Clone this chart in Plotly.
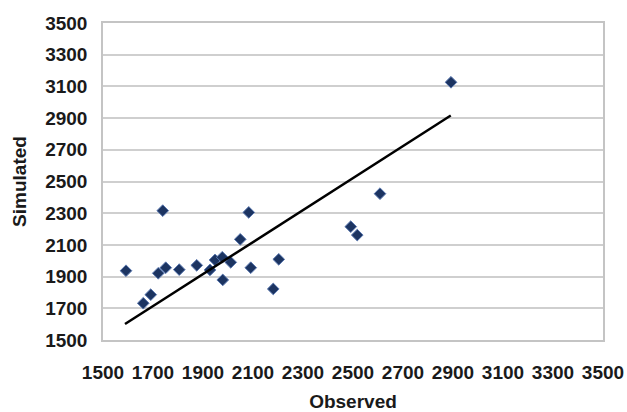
import plotly.graph_objects as go

# Observed vs simulated values
observed = [1592, 1739, 1661, 1691, 1721, 1751, 1805, 1875, 1928, 1948, 1977,
            1979, 2011, 2049, 2083, 2091, 2181, 2203, 2491, 2517, 2608, 2892]
simulated = [1937, 2316, 1732, 1786, 1921, 1956, 1944, 1971, 1942, 2005, 2022,
             1879, 1990, 2135, 2305, 1956, 1822, 2009, 2215, 2162, 2423, 3126]

# Fitted line end points
line_x = [1588, 2891]
line_y = [1601, 2916]

tick_vals = [1500, 1700, 1900, 2100, 2300, 2500, 2700, 2900, 3100, 3300, 3500]
tick_text = [str(v) for v in tick_vals]

FONT = "Liberation Sans Narrow, Arial Narrow, Liberation Sans, Arial, sans-serif"
FSIZE = 19

fig = go.Figure()
fig.add_trace(go.Scatter(
    x=observed, y=simulated, mode="markers",
    marker=dict(symbol="diamond", size=9, color="#1c3461",
                line=dict(color="#5a78b0", width=1)),
    showlegend=False, cliponaxis=False))
fig.add_trace(go.Scatter(
    x=line_x, y=line_y, mode="lines",
    line=dict(color="#000000", width=2.5), showlegend=False))

axis_common = dict(
    tickvals=tick_vals, ticktext=tick_text, tickangle=0,
    zeroline=False, showline=True, linecolor="#c4c4c4", linewidth=1.5,
    mirror=True, ticks="", automargin=False,
    tickfont=dict(family=FONT, size=FSIZE, color="#1a1a1a", weight="bold"),
)
title_font = dict(family=FONT, size=FSIZE, color="#1a1a1a", weight="bold")

fig.update_layout(
    width=627, height=412,
    margin=dict(l=103, r=24, t=23, b=72),
    paper_bgcolor="white", plot_bgcolor="white",
    xaxis=dict(range=[1500, 3500], ticklabelstandoff=14, showgrid=False,
               title=dict(text="Observed", standoff=16, font=title_font),
               **axis_common),
    yaxis=dict(range=[1500, 3500], ticklabelstandoff=10, showgrid=True,
               gridcolor="#cfcfcf", gridwidth=1.5,
               title=dict(text="Simulated", standoff=14, font=title_font),
               **axis_common),
)

fig.write_html("out.html",
               config={"displayModeBar": False},
               post_script="document.body.style.margin='0';document.body.style.overflow='hidden';")
